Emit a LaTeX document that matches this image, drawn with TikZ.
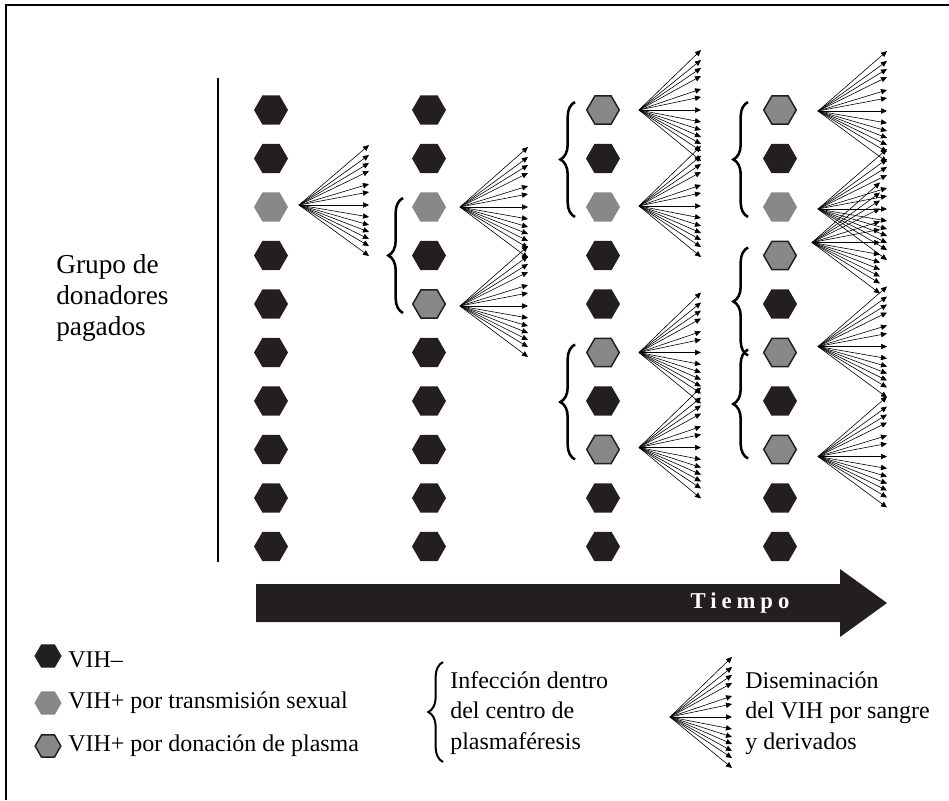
\documentclass[tikz,border=0pt]{standalone}
\usepackage{fontspec}
\setmainfont{Liberation Serif}
\usetikzlibrary{arrows.meta,decorations.pathreplacing,calc,shapes.geometric}
\definecolor{vihneg}{HTML}{231F20}
\definecolor{vihpos}{HTML}{87888A}

\newcommand{\dissem}[3]{%
  \coordinate (#1) at (#2);
  \foreach \dy [count=\k] in {-60,-50,-42,-34,-21,-13,0,12,20,27,34,41,51}{
    \coordinate (#1t\k) at ($(#1)+(#3,\dy)$);
    \draw[ray] (#1) -- (#1t\k);
  }}

\begin{document}
\begin{tikzpicture}[x=0.75pt,y=-0.75pt]
\tikzstyle{hex}=[regular polygon, regular polygon sides=6, minimum size=25.5pt, inner sep=0pt]
\tikzstyle{vneg}=[hex, fill=vihneg]
\tikzstyle{vsex}=[hex, fill=vihpos]
\tikzstyle{vpla}=[hex, fill=vihpos, draw=vihneg, line width=1.1pt, minimum size=24.4pt]
\tikzstyle{ray}=[line width=0.45pt, -{Triangle[length=4.5pt,width=4pt]}]
\tikzstyle{brc}=[decorate, decoration={brace, amplitude=11pt}, line width=1.9pt]
\tikzstyle{lbl}=[align=left, anchor=west, inner sep=0pt, font=\fontsize{18}{23}\selectfont]

\useasboundingbox (0,0) rectangle (949,800);
\draw[line width=1.1pt] (6,800) -- (6,5) -- (949,5);
\draw[line width=1.5pt] (218,78) -- (218,562);

\node[lbl, font=\fontsize{20.5}{23}\selectfont] (grupo) at (56,298) {Grupo de\\donadores\\pagados};

\foreach \col/\x/\states in {1/271/{vneg,vneg,vsex,vneg,vneg,vneg,vneg,vneg,vneg,vneg},
    2/429/{vneg,vneg,vsex,vneg,vpla,vneg,vneg,vneg,vneg,vneg},
    3/603/{vpla,vneg,vsex,vneg,vneg,vpla,vneg,vpla,vneg,vneg},
    4/780/{vpla,vneg,vsex,vpla,vneg,vpla,vneg,vpla,vneg,vneg}}
  \foreach \s [count=\r] in \states
    \node[\s] (c\col r\r) at (\x,{110+48.5*(\r-1)}) {};

\dissem{f13}{$(c1r3)+(28,-2)$}{70}
\dissem{f23}{$(c2r3)+(31,0)$}{68}
\dissem{f25}{$(c2r5)+(31,2)$}{68}
\dissem{f31}{$(c3r1)+(36,0)$}{62}
\dissem{f33}{$(c3r3)+(36,-1)$}{62}
\dissem{f36}{$(c3r6)+(36,0)$}{62}
\dissem{f38}{$(c3r8)+(36,-2)$}{62}
\dissem{f41}{$(c4r1)+(38,1)$}{69}
\dissem{f43}{$(c4r3)+(38,2)$}{69}
\dissem{f44}{$(c4r4)+(32,-13)$}{68}
\dissem{f46}{$(c4r6)+(38,-6)$}{69}
\dissem{f48}{$(c4r8)+(38,7)$}{69}

\draw[brc] ($(c2r5)+(-26,9)$) -- ($(c2r3)+(-26,-9)$);
\draw[brc] ($(c3r3)+(-28,10)$) -- ($(c3r1)+(-28,-8)$);
\draw[brc] ($(c3r8)+(-28,10)$) -- ($(c3r6)+(-28,-8)$);
\draw[brc] ($(c4r3)+(-32,10)$) -- ($(c4r1)+(-32,-8)$);
\draw[brc] ($(c4r6)+(-32,3)$) -- ($(c4r4)+(-32,-8)$);
\draw[brc] ($(c4r8)+(-32,9)$) -- ($(c4r6)+(-32,-3)$);

\fill[vihneg] (256,584) -- (840,584) -- (840,569) -- (887,603) -- (840,637) -- (840,622) -- (256,622) -- cycle;
\node[text=white, font=\bfseries\fontsize{17}{20}\selectfont\addfontfeature{LetterSpace=22}] (tiempo) at (740,603) {Tiempo};

\node[vneg, minimum size=20.3pt] (lneg) at (48,656) {};
\node[vsex, minimum size=20.3pt] (lsex) at (48,703) {};
\node[vpla, minimum size=19.3pt] (lpla) at (48,746) {};
\node[lbl] (tneg) at (68,660) {VIH–};
\node[lbl] (tsex) at (68,703) {VIH+ por transmisión sexual};
\node[lbl] (tpla) at (68,746) {VIH+ por donación de plasma};

\draw[brc, line width=1.5pt] (443,762) -- (443,662);
\node[lbl] (tbrc) at (450,713) {Infección dentro\\del centro de\\plasmaféresis};

\dissem{lfan}{670,717}{62}
\node[lbl] (tfan) at (745,713) {Diseminación\\del VIH por sangre\\y derivados};
\end{tikzpicture}
\end{document}
